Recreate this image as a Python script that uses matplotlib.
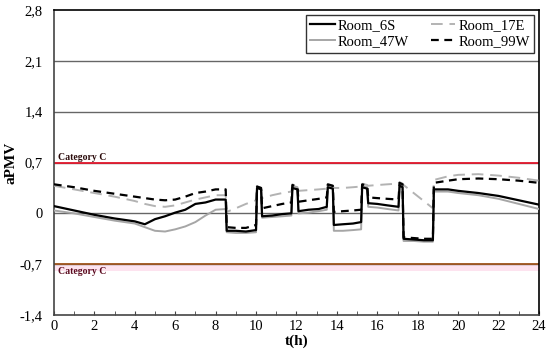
import matplotlib
matplotlib.use('Agg')
import matplotlib.pyplot as plt
from matplotlib.ticker import MultipleLocator, FuncFormatter

plt.rcParams['font.family'] = ['Liberation Serif', 'DejaVu Serif']

# time (h), shared by all rooms
t = [0, 1, 2, 3, 4, 4.5, 5, 5.5, 6, 6.5, 7, 7.5, 8, 8.5, 8.55, 9, 9.5, 10.0,
     10.05, 10.25, 10.3, 10.8, 11.3, 11.75, 11.8, 12.05, 12.1, 12.6, 13.1, 13.5,
     13.55, 13.8, 13.85, 14.3, 14.8, 15.2, 15.25, 15.5, 15.55, 16.0, 16.5, 17.05,
     17.1, 17.25, 17.3, 17.8, 18.3, 18.75, 18.8, 19.5, 20, 21, 22, 23, 24]

room_6S = [0.10, 0.04, -0.02, -0.07, -0.11, -0.15, -0.08, -0.04, 0.01, 0.05, 0.13, 0.15, 0.19, 0.19,
           -0.24, -0.24, -0.25, -0.23, 0.35, 0.33, -0.04, -0.03, -0.01, 0.0, 0.35, 0.33, 0.03, 0.05,
           0.06, 0.09, 0.36, 0.34, -0.16, -0.15, -0.14, -0.12, 0.36, 0.34, 0.14, 0.13, 0.11, 0.09,
           0.38, 0.36, -0.35, -0.36, -0.37, -0.37, 0.33, 0.33, 0.31, 0.28, 0.24, 0.18, 0.12]

room_17E = [0.38, 0.33, 0.28, 0.23, 0.17, 0.13, 0.10, 0.09, 0.11, 0.15, 0.19, 0.22, 0.25, 0.25,
            0.02, 0.07, 0.13, 0.18, 0.36, 0.34, 0.21, 0.25, 0.28, 0.30, 0.40, 0.38, 0.31, 0.32,
            0.33, 0.34, 0.40, 0.38, 0.35, 0.35, 0.36, 0.37, 0.41, 0.39, 0.38, 0.39, 0.40, 0.41,
            0.43, 0.41, 0.39, 0.28, 0.17, 0.07, 0.46, 0.51, 0.53, 0.54, 0.52, 0.49, 0.45]

room_47W = [0.04, 0.0, -0.05, -0.10, -0.14, -0.19, -0.24, -0.25, -0.22, -0.18, -0.12, -0.03, 0.05, 0.06,
            -0.26, -0.27, -0.27, -0.26, 0.37, 0.35, -0.06, -0.05, -0.04, -0.03, 0.38, 0.36, 0.0, 0.01,
            0.03, 0.05, 0.38, 0.36, -0.24, -0.24, -0.23, -0.22, 0.38, 0.36, 0.09, 0.08, 0.06, 0.04,
            0.40, 0.38, -0.38, -0.38, -0.39, -0.39, 0.30, 0.30, 0.28, 0.25, 0.20, 0.13, 0.06]

room_99W = [0.40, 0.36, 0.31, 0.27, 0.23, 0.21, 0.19, 0.18, 0.19, 0.23, 0.28, 0.30, 0.33, 0.33,
            -0.19, -0.20, -0.20, -0.16, 0.37, 0.35, 0.07, 0.10, 0.13, 0.15, 0.39, 0.37, 0.16, 0.18,
            0.20, 0.22, 0.40, 0.38, 0.02, 0.03, 0.04, 0.05, 0.40, 0.38, 0.22, 0.21, 0.20, 0.19,
            0.42, 0.40, -0.33, -0.34, -0.35, -0.35, 0.42, 0.45, 0.47, 0.48, 0.47, 0.45, 0.42]

cat_upper = 0.7
cat_lower = -0.7

fig = plt.figure(figsize=(5.5, 3.56), dpi=100)
ax = fig.add_axes([0.098, 0.115, 0.882, 0.857])

# grid lines
for y in [-0.7, 0, 0.7, 1.4, 2.1]:
    ax.axhline(y, color='#666666', lw=1.0, zorder=1)

# comfort category bounds
ax.axhspan(-0.79, -0.715, color='#fde3ef', lw=0, zorder=0)
ax.axhline(cat_upper, color='#e3182d', lw=1.3, zorder=2)
ax.axhline(cat_lower, color='#a0561e', lw=1.3, zorder=2)
ax.text(0.2, cat_upper + 0.04, 'Category C', fontsize=7, fontweight='bold', color='#2a0a0a')
ax.text(0.2, cat_lower - 0.13, 'Category C', fontsize=7, fontweight='bold', color='#5a0a1e')

l6, = ax.plot(t, room_6S, color='black', lw=1.6, label='Room_6S', zorder=5)
l17, = ax.plot(t, room_17E, color='#b3b3b3', lw=1.4, dashes=(6, 3.5), label='Room_17E', zorder=3)
l47, = ax.plot(t, room_47W, color='#a6a6a6', lw=1.4, label='Room_47W', zorder=4)
l99, = ax.plot(t, room_99W, color='black', lw=1.6, dashes=(3.5, 2.5), label='Room_99W', zorder=6)

ax.set_xlim(0, 24)
ax.set_ylim(-1.4, 2.8)
ax.xaxis.set_major_locator(MultipleLocator(2))
ax.xaxis.set_minor_locator(MultipleLocator(1))
ax.yaxis.set_major_locator(MultipleLocator(0.7))
ax.yaxis.set_major_formatter(FuncFormatter(lambda v, p: ('%.1f' % v).replace('.', ',').replace('-0,0', '0').replace('0,0', '0')))
ax.tick_params(axis='x', which='both', direction='in', length=3, labelsize=10.5, color='#444444')
ax.tick_params(axis='y', length=0, labelsize=10.5, pad=8)

for s in ax.spines.values():
    s.set_linewidth(1.2)
ax.spines['left'].set_color('#444444')
ax.spines['bottom'].set_color('#444444')

ax.set_xlabel('t(h)', fontsize=11, fontweight='bold', labelpad=1)
ax.set_ylabel('aPMV', fontsize=11, fontweight='bold', labelpad=2)

# legend rows: 6S, 17E / 47W, 99W
leg = ax.legend([l6, l47, l17, l99], ['Room_6S', 'Room_47W', 'Room_17E', 'Room_99W'],
                ncol=2, loc='upper right', bbox_to_anchor=(0.99, 0.984), borderaxespad=0,
                fontsize=10.5, frameon=True, fancybox=False, handlelength=1.7,
                handletextpad=0.2, columnspacing=1.5, borderpad=0.3, labelspacing=0.2)
leg.get_frame().set_edgecolor('black')
leg.get_frame().set_linewidth(1.0)

fig.savefig('out.png', dpi=100)
